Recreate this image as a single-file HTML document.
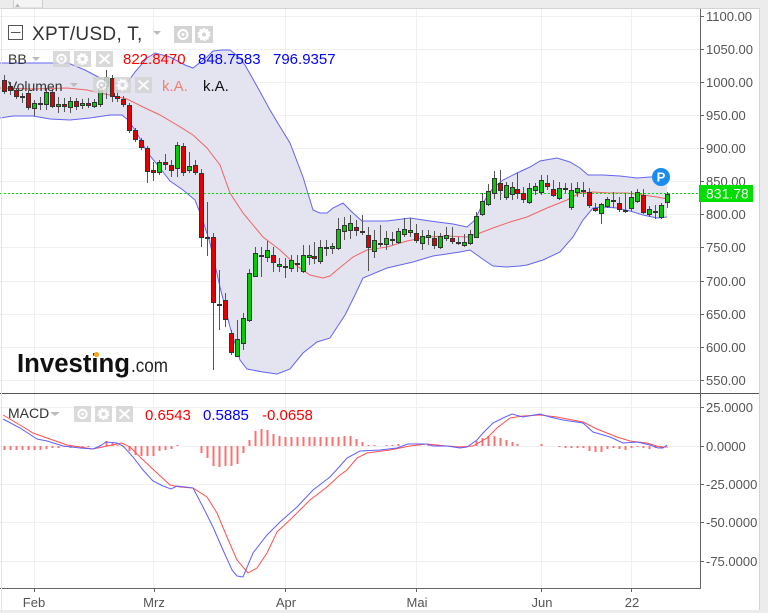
<!DOCTYPE html>
<html><head><meta charset="utf-8"><style>
html,body{margin:0;padding:0;background:#fff;}
svg{display:block;font-family:"Liberation Sans",Arial,sans-serif;}
</style></head><body>
<svg width="768" height="613" viewBox="0 0 768 613" xmlns="http://www.w3.org/2000/svg">
<defs>
<pattern id="gdash" x="0" y="0" width="4" height="1" patternUnits="userSpaceOnUse"><rect x="0" y="0" width="2" height="1" fill="#00dd00"/></pattern>
</defs>
<rect x="0" y="0" width="768" height="613" fill="#fff"/>
<!-- grid -->
<g stroke="#f0f0f0" stroke-width="1">
<line x1="0" y1="16.5" x2="700" y2="16.5"/><line x1="0" y1="49.5" x2="700" y2="49.5"/><line x1="0" y1="82.5" x2="700" y2="82.5"/><line x1="0" y1="115.5" x2="700" y2="115.5"/><line x1="0" y1="148.5" x2="700" y2="148.5"/><line x1="0" y1="181.5" x2="700" y2="181.5"/><line x1="0" y1="214.5" x2="700" y2="214.5"/><line x1="0" y1="247.5" x2="700" y2="247.5"/><line x1="0" y1="281.5" x2="700" y2="281.5"/><line x1="0" y1="314.5" x2="700" y2="314.5"/><line x1="0" y1="347.5" x2="700" y2="347.5"/><line x1="0" y1="380.5" x2="700" y2="380.5"/>
<line x1="0" y1="407.5" x2="700" y2="407.5"/><line x1="0" y1="446.5" x2="700" y2="446.5"/><line x1="0" y1="484.5" x2="700" y2="484.5"/><line x1="0" y1="522.5" x2="700" y2="522.5"/><line x1="0" y1="561.5" x2="700" y2="561.5"/>
<line x1="34.5" y1="9" x2="34.5" y2="588"/><line x1="153.5" y1="9" x2="153.5" y2="588"/><line x1="285.5" y1="9" x2="285.5" y2="588"/><line x1="416.5" y1="9" x2="416.5" y2="588"/><line x1="541.5" y1="9" x2="541.5" y2="588"/><line x1="631.5" y1="9" x2="631.5" y2="588"/>
</g>
<!-- bollinger fill -->
<polygon fill="#e4e4f0" points="0,63 68,63 85,70 100,78 112,83 127,83 135,72 147,58 155,53 170,57 185,65 193,68 207,57 213,51 222,50 230,50 240,58 245,65 258,88 270,110 282,130 290,143 303,177 313,210 320,213 327,213 333,208 343,203 353,213 362,221 387,221 410,218 430,221 453,224 467,227 475,220 483,203 493,188 503,180 517,173 530,167 540,161 557,158 570,162 580,168 588,175 603,175 620,176 637,178 650,177 667,177 667,217 657,218 643,215 630,211 617,208 603,207 593,208 583,220 573,237 560,252 543,260 527,265 520,266 507,267 493,266 487,262 477,255 470,250 460,252 433,256 413,262 387,268 363,278 355,295 345,315 330,338 317,342 303,353 290,369 277,374 263,372 247,369 240,360 230,327 220,287 210,243 202,218 195,200 183,190 170,181 160,168 147,152 137,133 128,120 122,115 110,115 90,118 70,120 50,119 33,116 13,116 0,118"/>
<polyline fill="none" stroke="#6464f0" stroke-width="1" points="0,63 68,63 85,70 100,78 112,83 127,83 135,72 147,58 155,53 170,57 185,65 193,68 207,57 213,51 222,50 230,50 240,58 245,65 258,88 270,110 282,130 290,143 303,177 313,210 320,213 327,213 333,208 343,203 353,213 362,221 387,221 410,218 430,221 453,224 467,227 475,220 483,203 493,188 503,180 517,173 530,167 540,161 557,158 570,162 580,168 588,175 603,175 620,176 637,178 650,177 667,177"/>
<polyline fill="none" stroke="#6464f0" stroke-width="1" points="0,118 13,116 33,116 50,119 70,120 90,118 110,115 122,115 128,120 137,133 147,152 160,168 170,181 183,190 195,200 202,218 210,243 220,287 230,327 240,360 247,369 263,372 277,374 290,369 303,353 317,342 330,338 345,315 355,295 363,278 387,268 413,262 433,256 460,252 470,250 477,255 487,262 493,266 507,267 520,266 527,265 543,260 560,252 573,237 583,220 593,208 603,207 617,208 630,211 643,215 657,218 667,217"/>
<polyline fill="none" stroke="#f06464" stroke-width="1" points="0,88 33,89 67,88 87,90 100,93 110,95 127,99 143,107 160,115 177,125 193,135 207,148 220,165 230,193 243,213 263,237 280,250 297,266 310,275 323,278 330,276 337,270 353,257 367,250 387,247 407,241 427,237 447,236 467,237 480,233 493,228 510,222 527,217 547,208 567,200 580,193 593,192 610,193 627,193 643,195 657,197 667,199"/>
<!-- last price line -->
<rect x="0" y="193" width="700" height="1" fill="url(#gdash)"/>
<!-- candles -->
<g stroke="#555" stroke-width="1">
<line x1="4.5" y1="75" x2="4.5" y2="94"/><line x1="10.5" y1="82" x2="10.5" y2="95"/><line x1="16.5" y1="88" x2="16.5" y2="99"/><line x1="22.5" y1="93" x2="22.5" y2="103"/><line x1="28.5" y1="90" x2="28.5" y2="110"/><line x1="34.5" y1="100" x2="34.5" y2="116"/><line x1="40.5" y1="97" x2="40.5" y2="110"/><line x1="46.5" y1="88" x2="46.5" y2="110"/><line x1="52.5" y1="89" x2="52.5" y2="108"/><line x1="58.5" y1="97" x2="58.5" y2="113"/><line x1="64.5" y1="98" x2="64.5" y2="112"/><line x1="70.5" y1="97" x2="70.5" y2="113"/><line x1="76.5" y1="98" x2="76.5" y2="110"/><line x1="82.5" y1="99" x2="82.5" y2="109"/><line x1="88.5" y1="98" x2="88.5" y2="108"/><line x1="94.5" y1="99" x2="94.5" y2="108"/><line x1="100.5" y1="86" x2="100.5" y2="107"/><line x1="106.5" y1="70" x2="106.5" y2="99"/><line x1="112.5" y1="75" x2="112.5" y2="102"/><line x1="117.5" y1="90" x2="117.5" y2="102"/>
<line x1="123.5" y1="96" x2="123.5" y2="107"/><line x1="129.5" y1="103" x2="129.5" y2="133"/><line x1="135.5" y1="128" x2="135.5" y2="142"/><line x1="141.5" y1="138" x2="141.5" y2="150"/><line x1="147.5" y1="146" x2="147.5" y2="183"/><line x1="153.5" y1="162" x2="153.5" y2="181"/><line x1="159.5" y1="160" x2="159.5" y2="175"/><line x1="165.5" y1="154" x2="165.5" y2="170"/><line x1="171.5" y1="160" x2="171.5" y2="177"/><line x1="177.5" y1="142" x2="177.5" y2="177"/><line x1="183.5" y1="143" x2="183.5" y2="176"/><line x1="189.5" y1="152" x2="189.5" y2="173"/><line x1="195.5" y1="160" x2="195.5" y2="175"/><line x1="201.5" y1="169" x2="201.5" y2="247"/><line x1="207.5" y1="202" x2="207.5" y2="256"/><line x1="213.5" y1="233" x2="213.5" y2="370"/><line x1="219.5" y1="270" x2="219.5" y2="330"/><line x1="225.5" y1="293" x2="225.5" y2="327"/><line x1="231.5" y1="330" x2="231.5" y2="355"/><line x1="237.5" y1="320" x2="237.5" y2="357"/>
<line x1="243.5" y1="313" x2="243.5" y2="350"/><line x1="249.5" y1="269" x2="249.5" y2="322"/><line x1="255.5" y1="247" x2="255.5" y2="277"/><line x1="261.5" y1="247" x2="261.5" y2="277"/><line x1="267.5" y1="241" x2="267.5" y2="262"/><line x1="273.5" y1="247" x2="273.5" y2="272"/><line x1="279.5" y1="258" x2="279.5" y2="272"/><line x1="285.5" y1="258" x2="285.5" y2="278"/><line x1="291.5" y1="255" x2="291.5" y2="272"/><line x1="297.5" y1="255" x2="297.5" y2="272"/><line x1="303.5" y1="245" x2="303.5" y2="273"/><line x1="309.5" y1="245" x2="309.5" y2="265"/><line x1="314.5" y1="242" x2="314.5" y2="264"/><line x1="320.5" y1="240" x2="320.5" y2="264"/><line x1="326.5" y1="240" x2="326.5" y2="256"/><line x1="332.5" y1="243" x2="332.5" y2="254"/><line x1="338.5" y1="218" x2="338.5" y2="250"/><line x1="344.5" y1="217" x2="344.5" y2="240"/><line x1="350.5" y1="215" x2="350.5" y2="239"/><line x1="356.5" y1="220" x2="356.5" y2="236"/>
<line x1="362.5" y1="215" x2="362.5" y2="235"/><line x1="368.5" y1="227" x2="368.5" y2="271"/><line x1="374.5" y1="230" x2="374.5" y2="258"/><line x1="380.5" y1="225" x2="380.5" y2="247"/><line x1="386.5" y1="231" x2="386.5" y2="250"/><line x1="392.5" y1="232" x2="392.5" y2="245"/><line x1="398.5" y1="228" x2="398.5" y2="244"/><line x1="404.5" y1="218" x2="404.5" y2="237"/><line x1="410.5" y1="218" x2="410.5" y2="237"/><line x1="416.5" y1="224" x2="416.5" y2="243"/><line x1="422.5" y1="230" x2="422.5" y2="250"/><line x1="428.5" y1="230" x2="428.5" y2="245"/><line x1="434.5" y1="231" x2="434.5" y2="249"/><line x1="440.5" y1="233" x2="440.5" y2="249"/><line x1="446.5" y1="227" x2="446.5" y2="241"/><line x1="452.5" y1="227" x2="452.5" y2="244"/><line x1="458.5" y1="237" x2="458.5" y2="245"/><line x1="464.5" y1="234" x2="464.5" y2="247"/><line x1="470.5" y1="230" x2="470.5" y2="245"/><line x1="476.5" y1="212" x2="476.5" y2="238"/>
<line x1="482.5" y1="193" x2="482.5" y2="216"/><line x1="488.5" y1="184" x2="488.5" y2="206"/><line x1="494.5" y1="171" x2="494.5" y2="199"/><line x1="500.5" y1="170" x2="500.5" y2="200"/><line x1="506.5" y1="182" x2="506.5" y2="200"/><line x1="512.5" y1="182" x2="512.5" y2="200"/><line x1="517.5" y1="173" x2="517.5" y2="199"/><line x1="523.5" y1="187" x2="523.5" y2="203"/><line x1="529.5" y1="183" x2="529.5" y2="204"/><line x1="535.5" y1="183" x2="535.5" y2="195"/><line x1="541.5" y1="175" x2="541.5" y2="195"/><line x1="547.5" y1="175" x2="547.5" y2="190"/><line x1="553.5" y1="180" x2="553.5" y2="197"/><line x1="559.5" y1="182" x2="559.5" y2="200"/><line x1="565.5" y1="183" x2="565.5" y2="193"/><line x1="571.5" y1="183" x2="571.5" y2="210"/><line x1="577.5" y1="182" x2="577.5" y2="197"/><line x1="583.5" y1="182" x2="583.5" y2="197"/><line x1="589.5" y1="188" x2="589.5" y2="208"/><line x1="595.5" y1="203" x2="595.5" y2="212"/>
<line x1="601.5" y1="203" x2="601.5" y2="224"/><line x1="607.5" y1="197" x2="607.5" y2="208"/><line x1="613.5" y1="192" x2="613.5" y2="208"/><line x1="619.5" y1="197" x2="619.5" y2="212"/><line x1="625.5" y1="193" x2="625.5" y2="213"/><line x1="631.5" y1="191" x2="631.5" y2="211"/><line x1="637.5" y1="189" x2="637.5" y2="203"/><line x1="643.5" y1="189" x2="643.5" y2="214"/><line x1="649.5" y1="206" x2="649.5" y2="217"/><line x1="655.5" y1="205" x2="655.5" y2="219"/><line x1="661.5" y1="203" x2="661.5" y2="219"/><line x1="667.5" y1="192" x2="667.5" y2="208"/>
</g>
<g stroke="#333" stroke-width="1">
<g fill="#e00000">
<rect x="2.5" y="80.5" width="4" height="11"/><rect x="8.5" y="86.5" width="4" height="4"/><rect x="14.5" y="90.5" width="4" height="6"/><rect x="26.5" y="93.5" width="4" height="14"/><rect x="38.5" y="103.5" width="4" height="1"/><rect x="50.5" y="92.5" width="4" height="14"/><rect x="62.5" y="104.5" width="4" height="2"/><rect x="74.5" y="101.5" width="4" height="5"/><rect x="86.5" y="103.5" width="4" height="2"/><rect x="110.5" y="78.5" width="4" height="18"/><rect x="115.5" y="96.5" width="4" height="2"/><rect x="121.5" y="99.5" width="4" height="5"/><rect x="127.5" y="105.5" width="4" height="25"/><rect x="133.5" y="130.5" width="4" height="9"/><rect x="139.5" y="140.5" width="4" height="7"/><rect x="145.5" y="148.5" width="4" height="23"/><rect x="151.5" y="170.5" width="4" height="2"/><rect x="163.5" y="162.5" width="4" height="2"/><rect x="169.5" y="165.5" width="4" height="5"/><rect x="181.5" y="146.5" width="4" height="26"/><rect x="193.5" y="165.5" width="4" height="7"/><rect x="199.5" y="173.5" width="4" height="64"/><rect x="205.5" y="237.5" width="4" height="1"/><rect x="211.5" y="237.5" width="4" height="65"/><rect x="217.5" y="304.5" width="4" height="1"/><rect x="223.5" y="300.5" width="4" height="19"/><rect x="229.5" y="333.5" width="4" height="19"/><rect x="271.5" y="255.5" width="4" height="7"/><rect x="295.5" y="263.5" width="4" height="1"/><rect x="312.5" y="256.5" width="4" height="2"/><rect x="354.5" y="227.5" width="4" height="3"/><rect x="360.5" y="231.5" width="4" height="1"/><rect x="366.5" y="235.5" width="4" height="12"/><rect x="390.5" y="239.5" width="4" height="1"/><rect x="414.5" y="233.5" width="4" height="7"/><rect x="432.5" y="238.5" width="4" height="7"/><rect x="450.5" y="238.5" width="4" height="3"/><rect x="456.5" y="242.5" width="4" height="1"/><rect x="498.5" y="183.5" width="4" height="7"/><rect x="515.5" y="189.5" width="4" height="4"/><rect x="521.5" y="193.5" width="4" height="6"/><rect x="545.5" y="183.5" width="4" height="3"/><rect x="551.5" y="189.5" width="4" height="6"/><rect x="581.5" y="190.5" width="4" height="1"/><rect x="587.5" y="192.5" width="4" height="13"/><rect x="593.5" y="208.5" width="4" height="2"/><rect x="617.5" y="203.5" width="4" height="6"/><rect x="641.5" y="195.5" width="4" height="17"/>
</g>
<g fill="#00cc00">
<rect x="20.5" y="96.5" width="4" height="1"/><rect x="32.5" y="103.5" width="4" height="5"/><rect x="44.5" y="92.5" width="4" height="12"/><rect x="56.5" y="104.5" width="4" height="2"/><rect x="68.5" y="101.5" width="4" height="6"/><rect x="80.5" y="103.5" width="4" height="2"/><rect x="92.5" y="102.5" width="4" height="4"/><rect x="98.5" y="88.5" width="4" height="16"/><rect x="104.5" y="77.5" width="4" height="9"/><rect x="157.5" y="162.5" width="4" height="10"/><rect x="175.5" y="145.5" width="4" height="23"/><rect x="187.5" y="166.5" width="4" height="4"/><rect x="235.5" y="339.5" width="4" height="17"/><rect x="241.5" y="318.5" width="4" height="25"/><rect x="247.5" y="273.5" width="4" height="47"/><rect x="253.5" y="253.5" width="4" height="23"/><rect x="259.5" y="255.5" width="4" height="1"/><rect x="265.5" y="250.5" width="4" height="7"/><rect x="277.5" y="264.5" width="4" height="2"/><rect x="283.5" y="266.5" width="4" height="1"/><rect x="289.5" y="260.5" width="4" height="8"/><rect x="301.5" y="255.5" width="4" height="16"/><rect x="307.5" y="255.5" width="4" height="2"/><rect x="318.5" y="247.5" width="4" height="14"/><rect x="324.5" y="247.5" width="4" height="1"/><rect x="330.5" y="246.5" width="4" height="2"/><rect x="336.5" y="229.5" width="4" height="19"/><rect x="342.5" y="225.5" width="4" height="6"/><rect x="348.5" y="223.5" width="4" height="7"/><rect x="372.5" y="240.5" width="4" height="11"/><rect x="378.5" y="243.5" width="4" height="1"/><rect x="384.5" y="238.5" width="4" height="6"/><rect x="396.5" y="231.5" width="4" height="11"/><rect x="402.5" y="229.5" width="4" height="5"/><rect x="408.5" y="230.5" width="4" height="2"/><rect x="420.5" y="236.5" width="4" height="7"/><rect x="426.5" y="235.5" width="4" height="2"/><rect x="438.5" y="236.5" width="4" height="11"/><rect x="444.5" y="235.5" width="4" height="3"/><rect x="462.5" y="242.5" width="4" height="3"/><rect x="468.5" y="234.5" width="4" height="9"/><rect x="474.5" y="216.5" width="4" height="21"/><rect x="480.5" y="201.5" width="4" height="13"/><rect x="486.5" y="191.5" width="4" height="13"/><rect x="492.5" y="178.5" width="4" height="15"/><rect x="504.5" y="185.5" width="4" height="12"/><rect x="510.5" y="187.5" width="4" height="7"/><rect x="527.5" y="188.5" width="4" height="14"/><rect x="533.5" y="186.5" width="4" height="4"/><rect x="539.5" y="180.5" width="4" height="12"/><rect x="557.5" y="188.5" width="4" height="10"/><rect x="563.5" y="188.5" width="4" height="1"/><rect x="569.5" y="190.5" width="4" height="17"/><rect x="575.5" y="188.5" width="4" height="4"/><rect x="599.5" y="204.5" width="4" height="9"/><rect x="605.5" y="199.5" width="4" height="7"/><rect x="611.5" y="200.5" width="4" height="1"/><rect x="623.5" y="210.5" width="4" height="1"/><rect x="629.5" y="197.5" width="4" height="11"/><rect x="635.5" y="192.5" width="4" height="9"/><rect x="647.5" y="209.5" width="4" height="5"/><rect x="653.5" y="211.5" width="4" height="1"/><rect x="659.5" y="205.5" width="4" height="12"/><rect x="665.5" y="194.5" width="4" height="8"/>
</g>
</g>
<!-- P marker -->
<circle cx="661" cy="177" r="9" fill="#1a8cf0"/>
<text x="661" y="181.5" font-size="13" font-weight="bold" fill="#fff" text-anchor="middle">P</text>
<!-- logo -->
<text x="17" y="372" font-size="25.5" font-weight="bold" fill="#111" textLength="113" lengthAdjust="spacingAndGlyphs">Investing</text>
<text x="131" y="372" font-size="19" fill="#222" textLength="37" lengthAdjust="spacingAndGlyphs">.com</text>
<circle cx="96.5" cy="354.5" r="2.6" fill="#f5a623"/>
<!-- header -->
<rect x="8.5" y="25.5" width="14" height="14" fill="#fff" stroke="#555" stroke-width="1"/>
<line x1="11" y1="32.5" x2="20.5" y2="32.5" stroke="#555"/>
<text x="32" y="40" font-size="19" fill="#333" letter-spacing="0.3">XPT/USD, T,</text>
<polygon points="153,31 161,31 157,35" fill="#bbb"/>
<g>
<rect x="174" y="26" width="18" height="17" fill="#d4d4d4"/><circle cx="183" cy="34.5" r="4.5" fill="none" stroke="#fff" stroke-width="2"/><circle cx="183" cy="34.5" r="1.5" fill="#fff"/>
<rect x="195" y="26" width="18" height="17" fill="#d4d4d4"/><circle cx="204" cy="34.5" r="5.5" fill="#fff" stroke="#fff" stroke-width="2" stroke-dasharray="2,1.5"/><circle cx="204" cy="34.5" r="2" fill="#d4d4d4"/>
</g>
<text x="8" y="64" font-size="14" fill="#333">BB</text>
<polygon points="32,57 40,57 36,61" fill="#bbb"/>
<g opacity="0.85">
<rect x="53" y="51" width="17" height="16" fill="#d4d4d4"/><circle cx="61.5" cy="59" r="4.2" fill="none" stroke="#fff" stroke-width="2"/><circle cx="61.5" cy="59" r="1.4" fill="#fff"/>
<rect x="74" y="51" width="17" height="16" fill="#d4d4d4"/><circle cx="82.5" cy="59" r="5" fill="#fff" stroke="#fff" stroke-width="2" stroke-dasharray="2,1.5"/><circle cx="82.5" cy="59" r="2" fill="#d4d4d4"/>
<rect x="96" y="51" width="17" height="16" fill="#d4d4d4"/><path d="M99.5 54.5 L109.5 63.5 M109.5 54.5 L99.5 63.5" stroke="#fff" stroke-width="2"/>
</g>
<text x="123" y="64" font-size="15" fill="#ff0000">822.8470</text>
<text x="198" y="64" font-size="15" fill="#0000ff">848.7583</text>
<text x="273" y="64" font-size="15" fill="#0000ff">796.9357</text>
<text x="8" y="91" font-size="14" fill="#333">Volumen</text>
<polygon points="70,83 78,83 74,87" fill="#bbb"/>
<g opacity="0.85">
<rect x="93" y="77" width="17" height="16" fill="#d4d4d4"/><circle cx="101.5" cy="85" r="4.2" fill="none" stroke="#fff" stroke-width="2"/><circle cx="101.5" cy="85" r="1.4" fill="#fff"/>
<rect x="114" y="77" width="17" height="16" fill="#d4d4d4"/><circle cx="122.5" cy="85" r="5" fill="#fff" stroke="#fff" stroke-width="2" stroke-dasharray="2,1.5"/><circle cx="122.5" cy="85" r="2" fill="#d4d4d4"/>
<rect x="135" y="77" width="17" height="16" fill="#d4d4d4"/><path d="M138.5 80.5 L148.5 89.5 M148.5 80.5 L138.5 89.5" stroke="#fff" stroke-width="2"/>
</g>
<text x="162" y="91" font-size="15" fill="#f08070">k.A.</text>
<text x="203" y="91" font-size="15" fill="#111">k.A.</text>
<!-- MACD panel -->
<g fill="#ff7070">
<rect x="3.5" y="446" width="2" height="4"/><rect x="9.5" y="446" width="2" height="4"/><rect x="15.5" y="446" width="2" height="4"/><rect x="21.5" y="446" width="2" height="4"/><rect x="27.5" y="446" width="2" height="4"/><rect x="33.5" y="446" width="2" height="4"/><rect x="39.5" y="446" width="2" height="4"/><rect x="45.5" y="446" width="2" height="3"/><rect x="51.5" y="446" width="2" height="2"/><rect x="57.5" y="446" width="2" height="2"/><rect x="63.5" y="446" width="2" height="1"/><rect x="69.5" y="446" width="2" height="2"/><rect x="75.5" y="446" width="2" height="1"/><rect x="81.5" y="446" width="2" height="1"/><rect x="87.5" y="446" width="2" height="1"/>
<rect x="99.5" y="445" width="2" height="1"/><rect x="105.5" y="441" width="2" height="5"/><rect x="111.5" y="442" width="2" height="4"/><rect x="116.5" y="445" width="2" height="1"/>
<rect x="122.5" y="446" width="2" height="1"/><rect x="128.5" y="446" width="2" height="5"/><rect x="134.5" y="446" width="2" height="9"/><rect x="140.5" y="446" width="2" height="10"/><rect x="146.5" y="446" width="2" height="10"/><rect x="152.5" y="446" width="2" height="10"/><rect x="158.5" y="446" width="2" height="5"/><rect x="164.5" y="446" width="2" height="4"/><rect x="170.5" y="446" width="2" height="3"/><rect x="176.5" y="445" width="2" height="1"/>
<rect x="200.5" y="446" width="2" height="7"/><rect x="206.5" y="446" width="2" height="12"/><rect x="212.5" y="446" width="2" height="20"/><rect x="218.5" y="446" width="2" height="21"/><rect x="224.5" y="446" width="2" height="20"/><rect x="230.5" y="446" width="2" height="20"/><rect x="236.5" y="446" width="2" height="18"/><rect x="242.5" y="446" width="2" height="7"/>
<rect x="248.5" y="440" width="2" height="6"/><rect x="254.5" y="431" width="2" height="15"/><rect x="260.5" y="429" width="2" height="17"/><rect x="266.5" y="430" width="2" height="16"/><rect x="272.5" y="434" width="2" height="12"/><rect x="278.5" y="436" width="2" height="10"/><rect x="284.5" y="437" width="2" height="9"/><rect x="290.5" y="437" width="2" height="9"/><rect x="296.5" y="437" width="2" height="9"/><rect x="302.5" y="437" width="2" height="9"/><rect x="308.5" y="437" width="2" height="9"/><rect x="313.5" y="437" width="2" height="9"/><rect x="319.5" y="437" width="2" height="9"/><rect x="325.5" y="437" width="2" height="9"/><rect x="331.5" y="437" width="2" height="9"/><rect x="337.5" y="437" width="2" height="9"/><rect x="343.5" y="436" width="2" height="10"/><rect x="349.5" y="436" width="2" height="10"/><rect x="355.5" y="439" width="2" height="7"/><rect x="361.5" y="442" width="2" height="4"/><rect x="367.5" y="445" width="2" height="1"/><rect x="373.5" y="445" width="2" height="1"/><rect x="385.5" y="445" width="2" height="1"/><rect x="391.5" y="445" width="2" height="1"/><rect x="397.5" y="444" width="2" height="2"/>
<rect x="427.5" y="445" width="2" height="1"/><rect x="475.5" y="441" width="2" height="5"/><rect x="481.5" y="438" width="2" height="8"/><rect x="487.5" y="436" width="2" height="10"/><rect x="493.5" y="436" width="2" height="10"/><rect x="499.5" y="438" width="2" height="8"/><rect x="505.5" y="440" width="2" height="6"/><rect x="511.5" y="442" width="2" height="4"/><rect x="516.5" y="444" width="2" height="2"/><rect x="540.5" y="444" width="2" height="2"/>
<rect x="558.5" y="446" width="2" height="1"/><rect x="564.5" y="446" width="2" height="2"/><rect x="570.5" y="446" width="2" height="2"/><rect x="576.5" y="446" width="2" height="2"/><rect x="582.5" y="446" width="2" height="2"/><rect x="588.5" y="446" width="2" height="5"/><rect x="594.5" y="446" width="2" height="6"/><rect x="600.5" y="446" width="2" height="6"/><rect x="606.5" y="446" width="2" height="3"/><rect x="612.5" y="446" width="2" height="2"/><rect x="618.5" y="446" width="2" height="3"/><rect x="624.5" y="446" width="2" height="4"/><rect x="630.5" y="446" width="2" height="2"/><rect x="636.5" y="446" width="2" height="1"/><rect x="642.5" y="446" width="2" height="2"/><rect x="648.5" y="446" width="2" height="3"/><rect x="654.5" y="446" width="2" height="2"/><rect x="660.5" y="446" width="2" height="1"/>
</g>
<polyline fill="none" stroke="#ff5050" stroke-width="1" points="3,415 20,425 33,433 50,439 67,445 93,449 107,446 122,443 130,447 140,457 157,473 170,485 180,487 193,488 207,497 217,513 227,537 237,560 248,573 257,568 267,553 277,532 293,517 310,500 327,487 340,475 347,470 357,458 367,453 390,450 410,446 427,444 447,446 460,447 473,446 487,438 497,428 510,418 523,416 540,415 557,417 583,422 597,429 617,437 630,441 647,443 660,447 668,447"/>
<polyline fill="none" stroke="#6060ff" stroke-width="1" points="3,419 20,428 37,439 47,441 63,446 80,448 93,449 100,446 106,442 117,443 123,446 133,457 143,470 153,481 163,486 171,489 177,486 193,488 203,507 213,527 223,550 232,570 237,576 243,577 253,553 267,535 280,522 297,507 313,490 330,477 340,466 347,458 360,451 380,450 397,448 408,444 427,444 433,446 447,446 460,448 467,447 477,440 483,433 493,423 503,418 512,414 523,417 540,414 550,417 563,420 583,423 593,432 610,437 623,443 637,442 650,445 658,448 663,448 667,445"/>
<text x="8" y="418" font-size="14" fill="#333">MACD</text>
<polygon points="50,412 60,412 55,416" fill="#bbb"/>
<g opacity="0.85">
<rect x="74" y="406" width="17" height="16" fill="#d4d4d4"/><circle cx="82.5" cy="414" r="4.2" fill="none" stroke="#fff" stroke-width="2"/><circle cx="82.5" cy="414" r="1.4" fill="#fff"/>
<rect x="95" y="406" width="17" height="16" fill="#d4d4d4"/><circle cx="103.5" cy="414" r="5" fill="#fff" stroke="#fff" stroke-width="2" stroke-dasharray="2,1.5"/><circle cx="103.5" cy="414" r="2" fill="#d4d4d4"/>
<rect x="116" y="406" width="17" height="16" fill="#d4d4d4"/><path d="M119.5 409.5 L129.5 418.5 M129.5 409.5 L119.5 418.5" stroke="#fff" stroke-width="2"/>
</g>
<text x="145" y="420" font-size="15" fill="#ff0000">0.6543</text>
<text x="203" y="420" font-size="15" fill="#0000ff">0.5885</text>
<text x="262" y="420" font-size="15" fill="#ff0000">-0.0658</text>
<!-- separator & axes -->
<line x1="0" y1="393.5" x2="760" y2="393.5" stroke="#555" stroke-width="1"/>
<line x1="700.5" y1="9" x2="700.5" y2="589" stroke="#666" stroke-width="1"/>
<line x1="0" y1="588.5" x2="701" y2="588.5" stroke="#666" stroke-width="1"/>
<g stroke="#666" stroke-width="1">
<line x1="700" y1="16.5" x2="704" y2="16.5"/><line x1="700" y1="49.5" x2="704" y2="49.5"/><line x1="700" y1="82.5" x2="704" y2="82.5"/><line x1="700" y1="115.5" x2="704" y2="115.5"/><line x1="700" y1="148.5" x2="704" y2="148.5"/><line x1="700" y1="181.5" x2="704" y2="181.5"/><line x1="700" y1="214.5" x2="704" y2="214.5"/><line x1="700" y1="247.5" x2="704" y2="247.5"/><line x1="700" y1="281.5" x2="704" y2="281.5"/><line x1="700" y1="314.5" x2="704" y2="314.5"/><line x1="700" y1="347.5" x2="704" y2="347.5"/><line x1="700" y1="380.5" x2="704" y2="380.5"/>
<line x1="700" y1="407.5" x2="704" y2="407.5"/><line x1="700" y1="446.5" x2="704" y2="446.5"/><line x1="700" y1="484.5" x2="704" y2="484.5"/><line x1="700" y1="522.5" x2="704" y2="522.5"/><line x1="700" y1="561.5" x2="704" y2="561.5"/>
<line x1="34.5" y1="588" x2="34.5" y2="592"/><line x1="154.5" y1="588" x2="154.5" y2="592"/><line x1="285.5" y1="588" x2="285.5" y2="592"/><line x1="416.5" y1="588" x2="416.5" y2="592"/><line x1="541.5" y1="588" x2="541.5" y2="592"/><line x1="631.5" y1="588" x2="631.5" y2="592"/>
</g>
<g font-size="13" fill="#555">
<text x="706" y="21">1100.00</text><text x="706" y="54">1050.00</text><text x="706" y="87">1000.00</text><text x="706" y="120">950.00</text><text x="706" y="153">900.00</text><text x="706" y="186">850.00</text><text x="706" y="219">800.00</text><text x="706" y="252">750.00</text><text x="706" y="286">700.00</text><text x="706" y="319">650.00</text><text x="706" y="352">600.00</text><text x="706" y="385">550.00</text>
<text x="706" y="412">25.0000</text><text x="706" y="451">0.0000</text><text x="706" y="489">-25.0000</text><text x="706" y="527">-50.0000</text><text x="706" y="566">-75.0000</text>
</g>
<g font-size="13" fill="#555" text-anchor="middle">
<text x="34" y="607">Feb</text><text x="154" y="607">Mrz</text><text x="286" y="607">Apr</text><text x="417" y="607">Mai</text><text x="542" y="607">Jun</text><text x="632" y="607">22</text>
</g>
<!-- price label -->
<rect x="699" y="185" width="54" height="17" fill="#00dd00"/>
<text x="706" y="198.5" font-size="14" fill="#fff">831.78</text>
<!-- frame -->
<rect x="0" y="0" width="768" height="8" fill="#ececec"/>
<line x1="0" y1="8.5" x2="760" y2="8.5" stroke="#d4d4d4"/>
<rect x="13.5" y="-1" width="29" height="9" fill="#f4f4f4" stroke="#cfcfcf"/>
<polygon points="15,7 17.5,3.5 20,7" fill="#b8b8b8"/>
<rect x="760" y="0" width="8" height="613" fill="#ececec"/>
<line x1="759.5" y1="8" x2="759.5" y2="610" stroke="#d4d4d4"/>
<rect x="0" y="610" width="768" height="3" fill="#ececec"/>
<line x1="1.5" y1="8" x2="1.5" y2="610" stroke="#e4e4e4"/>
</svg>
</body></html>
